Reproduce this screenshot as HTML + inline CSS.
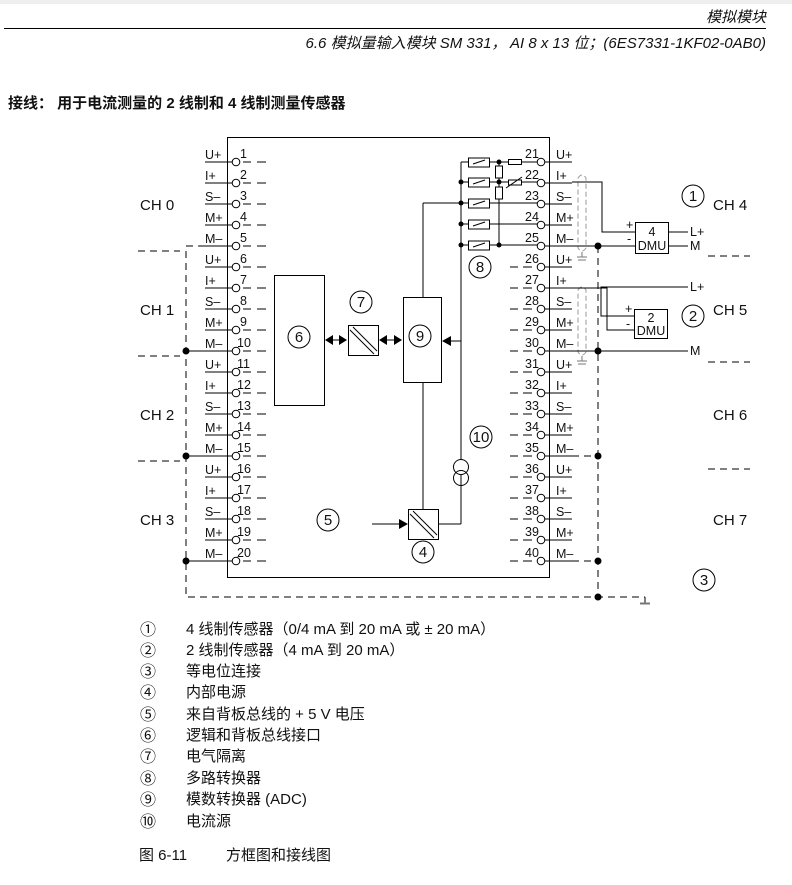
<!DOCTYPE html>
<html><head><meta charset="utf-8"><style>
html,body{margin:0;padding:0;background:#fff;width:792px;height:885px;overflow:hidden}
svg{display:block}
text{font-family:"Liberation Sans","Noto Sans CJK SC",sans-serif;fill:#111}
.t{font-size:12.5px}
.ch{font-size:15px}
.lg{font-size:15px}
.cn{font-size:16px}
</style></head><body>
<svg width="792" height="885" viewBox="0 0 792 885" xmlns="http://www.w3.org/2000/svg">
<defs>
<g id="L" stroke="#000" stroke-width="1" fill="none">
<line x1="205" y1="0" x2="232" y2="0"/><circle cx="236" cy="0" r="3.8" fill="#fff"/>
<line x1="243" y1="0" x2="251" y2="0"/><line x1="257" y1="0" x2="266" y2="0"/>
</g>
<g id="R" stroke="#000" stroke-width="1" fill="none">
<line x1="510" y1="0" x2="518" y2="0"/><line x1="523" y1="0" x2="532" y2="0"/>
<circle cx="541" cy="0" r="3.8" fill="#fff"/><line x1="545" y1="0" x2="572" y2="0"/>
</g>
<g id="R2" stroke="#000" stroke-width="1" fill="none"><circle cx="541" cy="0" r="3.8" fill="#fff"/><line x1="545" y1="0" x2="572" y2="0"/></g>
</defs>
<rect x="0" y="0" width="792" height="4" fill="#eee"/>
<text x="766" y="22" text-anchor="end" font-size="15" font-style="italic">模拟模块</text>
<line x1="4" y1="28.5" x2="766" y2="28.5" stroke="#000" stroke-width="1"/>
<text x="766" y="48" text-anchor="end" font-size="15" font-style="italic">6.6 模拟量输入模块 SM 331， AI 8 x 13 位；(6ES7331-1KF02-0AB0)</text>
<text x="8" y="108" font-size="15" font-weight="bold">接线： 用于电流测量的 2 线制和 4 线制测量传感器</text>

<g stroke="#000" stroke-width="1" fill="none">
<rect x="227.5" y="137.5" width="322" height="440"/>
<line x1="461" y1="162" x2="537" y2="162"/><line x1="461" y1="182" x2="537" y2="182"/><line x1="423" y1="203" x2="537" y2="203"/>
<line x1="461" y1="224" x2="537" y2="224"/><line x1="461" y1="245" x2="537" y2="245"/>

<!-- multiplexer -->
<line x1="461" y1="162" x2="461" y2="524"/>
<line x1="499" y1="162" x2="499" y2="246"/>
<g fill="#fff">
<rect x="468.5" y="158" width="21" height="9"/><rect x="468.5" y="178" width="21" height="9"/>
<rect x="468.5" y="199" width="21" height="9"/><rect x="468.5" y="220" width="21" height="9"/>
<rect x="468.5" y="241" width="21" height="9"/>
<rect x="495.5" y="166" width="7" height="12"/><rect x="495.5" y="187" width="7" height="12"/>
<rect x="508.5" y="159.5" width="13" height="5"/><rect x="508.5" y="180" width="13" height="5"/>
</g>
<line x1="506" y1="188" x2="522" y2="177"/>
<line x1="473" y1="164" x2="485" y2="160"/><line x1="473" y1="184" x2="485" y2="180"/><line x1="473" y1="205" x2="485" y2="201"/>
<line x1="473" y1="226" x2="485" y2="222"/><line x1="473" y1="247" x2="485" y2="243"/>
<line x1="423" y1="203" x2="423" y2="297"/>
<!-- blocks -->
<rect x="274.5" y="275.5" width="50" height="130"/>
<rect x="348.5" y="325.5" width="30" height="30"/>
<line x1="350" y1="330" x2="374" y2="354"/><line x1="353" y1="327" x2="377" y2="351"/>
<rect x="403.5" y="297.5" width="38" height="85"/>
<line x1="423" y1="382" x2="423" y2="509"/>
<rect x="408.5" y="509.5" width="30" height="30"/>
<line x1="410" y1="514" x2="434" y2="538"/><line x1="413" y1="511" x2="437" y2="535"/>
<line x1="461" y1="485" x2="461" y2="524"/><line x1="461" y1="524" x2="438" y2="524"/>
<circle cx="461" cy="467" r="7.5" fill="#fff"/><circle cx="461" cy="478" r="7.5" fill="none"/>
<line x1="372" y1="524" x2="400" y2="524"/>
<line x1="461" y1="341" x2="450" y2="341"/>
<!-- circled numbers -->
<circle cx="299" cy="337" r="11"/><circle cx="361" cy="302" r="11"/><circle cx="420" cy="336" r="11"/>
<circle cx="480" cy="267" r="11"/><circle cx="481" cy="437" r="11"/><circle cx="328" cy="520" r="11"/>
<circle cx="423" cy="552" r="11"/><circle cx="693" cy="196" r="11"/><circle cx="693" cy="316" r="11"/><circle cx="704" cy="580" r="11"/>

<!-- dashed buses -->
<g stroke-dasharray="7,5">
<polyline points="205,246 186,246 186,597 645,597"/>
<line x1="598" y1="246" x2="598" y2="597"/>
<line x1="138" y1="251" x2="180" y2="251"/><line x1="138" y1="356" x2="180" y2="356"/><line x1="138" y1="461" x2="180" y2="461"/>
<line x1="708" y1="256" x2="750" y2="256"/><line x1="708" y1="362" x2="750" y2="362"/><line x1="708" y1="469" x2="750" y2="469"/>
<line x1="572" y1="456" x2="598" y2="456"/><line x1="572" y1="561" x2="598" y2="561"/>
</g>
<line x1="186" y1="351" x2="205" y2="351"/><line x1="186" y1="456" x2="205" y2="456"/><line x1="186" y1="561" x2="205" y2="561"/>
<line x1="645" y1="597" x2="645" y2="603"/>
<!-- shields -->
<g stroke="#999" stroke-dasharray="5,3">
<path d="M578,178 Q582,172 586,178 L586,248 Q582,254 578,248 Z"/>
<path d="M578,290 Q582,284 586,290 L586,352 Q582,358 578,352 Z"/>
</g>
<g stroke="#777"><line x1="582" y1="252" x2="582" y2="257"/><line x1="577" y1="257" x2="587" y2="257"/><line x1="578" y1="260" x2="586" y2="260"/>
<line x1="582" y1="356" x2="582" y2="361"/><line x1="577" y1="361" x2="587" y2="361"/><line x1="578" y1="364" x2="586" y2="364"/>
<line x1="640" y1="603.5" x2="650" y2="603.5" stroke-width="2"/></g>
<!-- CH4 wiring -->
<polyline points="572,182 602,182 602,232 635,232"/>
<line x1="572" y1="246" x2="635" y2="246"/>
<rect x="635.5" y="222.5" width="33" height="31"/>
<line x1="668" y1="232" x2="688" y2="232"/><line x1="668" y1="246" x2="688" y2="246"/>
<!-- CH5 wiring -->
<polyline points="572,288 607,288 607,330 634,330"/>
<polyline points="688,287 601,287 601,316 634,316"/>
<rect x="634.5" y="309.5" width="33" height="29"/>
<line x1="572" y1="351" x2="688" y2="351"/>
</g>
<use href="#L" y="162"/><use href="#L" y="183"/><use href="#L" y="204"/><use href="#L" y="225"/><use href="#L" y="246"/>
<use href="#L" y="267"/><use href="#L" y="288"/><use href="#L" y="309"/><use href="#L" y="330"/><use href="#L" y="351"/>
<use href="#L" y="372"/><use href="#L" y="393"/><use href="#L" y="414"/><use href="#L" y="435"/><use href="#L" y="456"/>
<use href="#L" y="477"/><use href="#L" y="498"/><use href="#L" y="519"/><use href="#L" y="540"/><use href="#L" y="561"/>
<use href="#R2" y="162"/><use href="#R2" y="183"/><use href="#R2" y="204"/><use href="#R2" y="225"/><use href="#R2" y="246"/>
<use href="#R" y="267"/><use href="#R" y="288"/><use href="#R" y="309"/><use href="#R" y="330"/><use href="#R" y="351"/>
<use href="#R" y="372"/><use href="#R" y="393"/><use href="#R" y="414"/><use href="#R" y="435"/><use href="#R" y="456"/>
<use href="#R" y="477"/><use href="#R" y="498"/><use href="#R" y="519"/><use href="#R" y="540"/><use href="#R" y="561"/>
<!-- dots -->
<g fill="#000">
<circle cx="186" cy="351" r="3.5"/><circle cx="186" cy="456" r="3.5"/><circle cx="186" cy="561" r="3.5"/>
<circle cx="598" cy="246" r="3.5"/><circle cx="598" cy="351" r="3.5"/><circle cx="598" cy="456" r="3.5"/><circle cx="598" cy="561" r="3.5"/><circle cx="598" cy="597" r="3.5"/>
<circle cx="461" cy="182" r="2.5"/><circle cx="461" cy="203" r="2.5"/><circle cx="461" cy="224" r="2.5"/><circle cx="461" cy="245" r="2.5"/>
<circle cx="499" cy="162" r="2.5"/><circle cx="499" cy="182" r="2.5"/><circle cx="499" cy="245" r="2.5"/>
<polygon points="325,340 333,335 333,345"/><polygon points="347,340 339,335 339,345"/><rect x="332" y="339.5" width="8" height="1"/>
<polygon points="379,340 387,335 387,345"/><polygon points="402,340 394,335 394,345"/><rect x="386" y="339.5" width="9" height="1"/>
<polygon points="442,341 451,336 451,346"/>
<polygon points="408,524 399,519 399,529"/>
</g>
<g font-size="15" text-anchor="middle">
<text x="299" y="342">6</text><text x="361" y="307">7</text><text x="420" y="341">9</text><text x="480" y="272">8</text>
<text x="481" y="442">10</text><text x="328" y="525">5</text><text x="423" y="557">4</text>
<text x="693" y="201">1</text><text x="693" y="321">2</text><text x="704" y="585">3</text>
</g>
<g class="t" text-anchor="middle">
<text x="652" y="236">4</text><text x="652" y="250">DMU</text>
<text x="651" y="322">2</text><text x="651" y="335">DMU</text>
</g>
<g class="t">
<text x="626" y="229">+</text><text x="627" y="243">-</text>
<text x="625" y="313">+</text><text x="626" y="328">-</text>
<text x="690" y="236">L+</text><text x="690" y="250">M</text><text x="690" y="291">L+</text><text x="690" y="355">M</text>
</g>
<g class="ch">
<text x="140" y="210">CH 0</text><text x="140" y="315">CH 1</text><text x="140" y="420">CH 2</text><text x="140" y="525">CH 3</text>
<text x="713" y="210">CH 4</text><text x="713" y="315">CH 5</text><text x="713" y="420">CH 6</text><text x="713" y="525">CH 7</text>
</g>
<g class="t">
<text x="205" y="159">U+</text><text x="205" y="180">I+</text><text x="205" y="201">S–</text><text x="205" y="222">M+</text><text x="205" y="243">M–</text>
<text x="205" y="264">U+</text><text x="205" y="285">I+</text><text x="205" y="306">S–</text><text x="205" y="327">M+</text><text x="205" y="348">M–</text>
<text x="205" y="369">U+</text><text x="205" y="390">I+</text><text x="205" y="411">S–</text><text x="205" y="432">M+</text><text x="205" y="453">M–</text>
<text x="205" y="474">U+</text><text x="205" y="495">I+</text><text x="205" y="516">S–</text><text x="205" y="537">M+</text><text x="205" y="558">M–</text>
<text x="240" y="158">1</text><text x="240" y="179">2</text><text x="240" y="200">3</text><text x="240" y="221">4</text><text x="240" y="242">5</text>
<text x="240" y="263">6</text><text x="240" y="284">7</text><text x="240" y="305">8</text><text x="240" y="326">9</text><text x="237" y="347">10</text>
<text x="237" y="368">11</text><text x="237" y="389">12</text><text x="237" y="410">13</text><text x="237" y="431">14</text><text x="237" y="452">15</text>
<text x="237" y="473">16</text><text x="237" y="494">17</text><text x="237" y="515">18</text><text x="237" y="536">19</text><text x="237" y="557">20</text>
<text x="525" y="158">21</text><text x="525" y="179">22</text><text x="525" y="200">23</text><text x="525" y="221">24</text><text x="525" y="242">25</text>
<text x="525" y="263">26</text><text x="525" y="284">27</text><text x="525" y="305">28</text><text x="525" y="326">29</text><text x="525" y="347">30</text>
<text x="525" y="368">31</text><text x="525" y="389">32</text><text x="525" y="410">33</text><text x="525" y="431">34</text><text x="525" y="452">35</text>
<text x="525" y="473">36</text><text x="525" y="494">37</text><text x="525" y="515">38</text><text x="525" y="536">39</text><text x="525" y="557">40</text>
<text x="556" y="159">U+</text><text x="556" y="180">I+</text><text x="556" y="201">S–</text><text x="556" y="222">M+</text><text x="556" y="243">M–</text>
<text x="556" y="264">U+</text><text x="556" y="285">I+</text><text x="556" y="306">S–</text><text x="556" y="327">M+</text><text x="556" y="348">M–</text>
<text x="556" y="369">U+</text><text x="556" y="390">I+</text><text x="556" y="411">S–</text><text x="556" y="432">M+</text><text x="556" y="453">M–</text>
<text x="556" y="474">U+</text><text x="556" y="495">I+</text><text x="556" y="516">S–</text><text x="556" y="537">M+</text><text x="556" y="558">M–</text>
</g>
<g class="cn">
<text x="140" y="635">①</text><text x="140" y="656">②</text><text x="140" y="677">③</text><text x="140" y="698">④</text><text x="140" y="720">⑤</text>
<text x="140" y="741">⑥</text><text x="140" y="762">⑦</text><text x="140" y="784">⑧</text><text x="140" y="805">⑨</text><text x="140" y="827">⑩</text>
</g>
<g class="lg">
<text x="186" y="634">4 线制传感器（0/4 mA 到 20 mA 或 ± 20 mA）</text>
<text x="186" y="655">2 线制传感器（4 mA 到 20 mA）</text>
<text x="186" y="676">等电位连接</text>
<text x="186" y="697">内部电源</text>
<text x="186" y="719">来自背板总线的 + 5 V 电压</text>
<text x="186" y="740">逻辑和背板总线接口</text>
<text x="186" y="761">电气隔离</text>
<text x="186" y="783">多路转换器</text>
<text x="186" y="804">模数转换器 (ADC)</text>
<text x="186" y="826">电流源</text>
<text x="139" y="860">图 6-11</text><text x="226" y="860">方框图和接线图</text>
</g>
</svg>
</body></html>
